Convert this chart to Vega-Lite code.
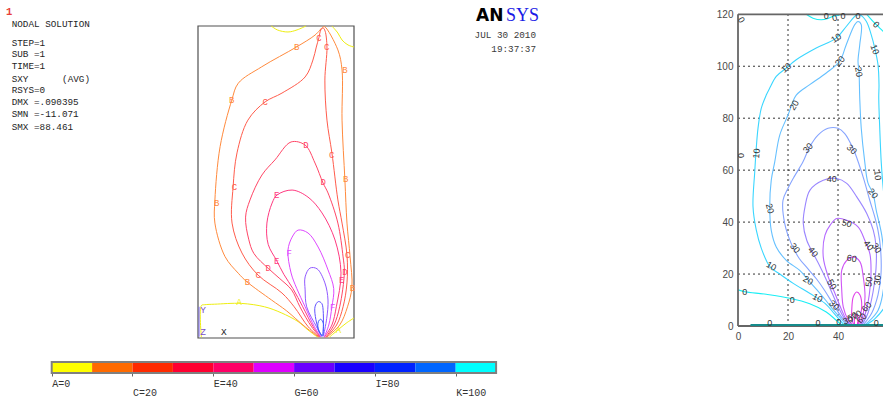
{
"$schema":"https://vega.github.io/schema/vega-lite/v6.json",
"padding":0,
"background":"#ffffff",
"config":{"view":{"stroke":null}},
"spacing":11,
"resolve":{"scale":{"color":"independent"}},
"datasets":{
"info":[
{"t":"1","col":-1,"row":-1,"k":"head"},
{"t":"NODAL SOLUTION","col":0,"row":0,"k":"body"},
{"t":"STEP=1","col":0,"row":1.55,"k":"body"},
{"t":"SUB =1","col":0,"row":2.5,"k":"body"},
{"t":"TIME=1","col":0,"row":3.5,"k":"body"},
{"t":"SXY","col":0,"row":4.55,"k":"body"},
{"t":"(AVG)","col":9,"row":4.55,"k":"body"},
{"t":"RSYS=0","col":0,"row":5.5,"k":"body"},
{"t":"DMX =.090395","col":0,"row":6.5,"k":"body"},
{"t":"SMN =-11.071","col":0,"row":7.5,"k":"body"},
{"t":"SMX =88.461","col":0,"row":8.55,"k":"body"}
],
"logo":[
{"t":"AN","col":20.36,"row":1.75,"k":"an"},
{"t":"SYS","col":25.7,"row":1.75,"k":"sys"},
{"t":"JUL 30 2010","col":31.07,"row":2.92,"k":"date"},
{"t":"19:37:37","col":31.07,"row":4.11,"k":"date"}
],
"bar":[
{"lo":0,"hi":10},{"lo":10,"hi":20},{"lo":20,"hi":30},{"lo":30,"hi":40},{"lo":40,"hi":50},{"lo":50,"hi":60},{"lo":60,"hi":70},{"lo":70,"hi":80},{"lo":80,"hi":90},{"lo":90,"hi":100},{"lo":100,"hi":110}
],
"ans":[
{"c":"A1","l":0,"i":0,"x":28.2,"y":120},{"c":"A1","l":0,"i":1,"x":30.5,"y":118.5},{"c":"A1","l":0,"i":2,"x":34.6,"y":117.7},{"c":"A1","l":0,"i":3,"x":38.1,"y":118.5},{"c":"A1","l":0,"i":4,"x":41.5,"y":120},
{"c":"A2","l":0,"i":0,"x":51.5,"y":120},{"c":"A2","l":0,"i":1,"x":53.8,"y":117.3},{"c":"A2","l":0,"i":2,"x":55.4,"y":114.6},{"c":"A2","l":0,"i":3,"x":57.7,"y":112.7},{"c":"A2","l":0,"i":4,"x":60,"y":111.9},
{"c":"A3","l":0,"i":0,"x":1.3,"y":0.3},{"c":"A3","l":0,"i":1,"x":1.3,"y":12.5},{"c":"A3","l":0,"i":2,"x":2.6,"y":12.8},{"c":"A3","l":0,"i":3,"x":6.4,"y":13},{"c":"A3","l":0,"i":4,"x":16.7,"y":13.3},{"c":"A3","l":0,"i":5,"x":25.6,"y":12},{"c":"A3","l":0,"i":6,"x":32,"y":9.7},{"c":"A3","l":0,"i":7,"x":38.5,"y":6.3},{"c":"A3","l":0,"i":8,"x":42.3,"y":3.1},{"c":"A3","l":0,"i":9,"x":46,"y":0.3},
{"c":"A4","l":0,"i":0,"x":50.5,"y":0.3},{"c":"A4","l":0,"i":1,"x":53.8,"y":3.1},{"c":"A4","l":0,"i":2,"x":57,"y":5.7},{"c":"A4","l":0,"i":3,"x":60,"y":7.7},
{"c":"B","l":10,"i":0,"x":46.3,"y":0.4},{"c":"B","l":10,"i":1,"x":41.2,"y":4.3},{"c":"B","l":10,"i":2,"x":34,"y":10.5},{"c":"B","l":10,"i":3,"x":28.3,"y":14.6},{"c":"B","l":10,"i":4,"x":18.7,"y":21.7},{"c":"B","l":10,"i":5,"x":15.5,"y":24.9},{"c":"B","l":10,"i":6,"x":10.4,"y":31.3},{"c":"B","l":10,"i":7,"x":6.5,"y":44.2},{"c":"B","l":10,"i":8,"x":6.5,"y":53},{"c":"B","l":10,"i":9,"x":8.5,"y":73.6},{"c":"B","l":10,"i":10,"x":13,"y":91.5},{"c":"B","l":10,"i":11,"x":15.5,"y":98},{"c":"B","l":10,"i":12,"x":24.5,"y":104.3},{"c":"B","l":10,"i":13,"x":38,"y":112},{"c":"B","l":10,"i":14,"x":45,"y":116.5},{"c":"B","l":10,"i":15,"x":48.2,"y":119.7},{"c":"B","l":10,"i":16,"x":48.8,"y":119.7},{"c":"B","l":10,"i":17,"x":53.8,"y":110.8},{"c":"B","l":10,"i":18,"x":55.4,"y":103.1},{"c":"B","l":10,"i":19,"x":55.4,"y":83.8},{"c":"B","l":10,"i":20,"x":56.5,"y":60.8},{"c":"B","l":10,"i":21,"x":57.3,"y":44.2},{"c":"B","l":10,"i":22,"x":58.5,"y":31.2},{"c":"B","l":10,"i":23,"x":59.2,"y":19.6},{"c":"B","l":10,"i":24,"x":57.5,"y":12},{"c":"B","l":10,"i":25,"x":54.5,"y":5},{"c":"B","l":10,"i":26,"x":49.5,"y":0.3},
{"c":"C","l":20,"i":0,"x":46.6,"y":0.4},{"c":"C","l":20,"i":1,"x":42.4,"y":4.3},{"c":"C","l":20,"i":2,"x":37,"y":12},{"c":"C","l":20,"i":3,"x":32.3,"y":17.3},{"c":"C","l":20,"i":4,"x":23.1,"y":24.2},{"c":"C","l":20,"i":5,"x":16.9,"y":32.7},{"c":"C","l":20,"i":6,"x":13.1,"y":44.2},{"c":"C","l":20,"i":7,"x":13.5,"y":58.1},{"c":"C","l":20,"i":8,"x":15,"y":71.2},{"c":"C","l":20,"i":9,"x":19.2,"y":83.8},{"c":"C","l":20,"i":10,"x":25.8,"y":90.8},{"c":"C","l":20,"i":11,"x":32.3,"y":94.2},{"c":"C","l":20,"i":12,"x":41.2,"y":100.4},{"c":"C","l":20,"i":13,"x":44.2,"y":106.9},{"c":"C","l":20,"i":14,"x":45.5,"y":111.9},{"c":"C","l":20,"i":15,"x":46.5,"y":115.5},{"c":"C","l":20,"i":16,"x":47.3,"y":118.6},{"c":"C","l":20,"i":17,"x":48.2,"y":119.2},{"c":"C","l":20,"i":18,"x":48.9,"y":118},{"c":"C","l":20,"i":19,"x":49.6,"y":111.9},{"c":"C","l":20,"i":20,"x":48.8,"y":99.2},{"c":"C","l":20,"i":21,"x":49.6,"y":83.8},{"c":"C","l":20,"i":22,"x":51.5,"y":71.2},{"c":"C","l":20,"i":23,"x":53.8,"y":53.1},{"c":"C","l":20,"i":24,"x":55.4,"y":44.2},{"c":"C","l":20,"i":25,"x":57.3,"y":31.9},{"c":"C","l":20,"i":26,"x":57.3,"y":21.2},{"c":"C","l":20,"i":27,"x":55.8,"y":12},{"c":"C","l":20,"i":28,"x":53.3,"y":5},{"c":"C","l":20,"i":29,"x":49.3,"y":0.3},
{"c":"D","l":30,"i":0,"x":46.9,"y":0.4},{"c":"D","l":30,"i":1,"x":43.7,"y":4.3},{"c":"D","l":30,"i":2,"x":39.2,"y":12},{"c":"D","l":30,"i":3,"x":36,"y":18.5},{"c":"D","l":30,"i":4,"x":31.5,"y":22.8},{"c":"D","l":30,"i":5,"x":27,"y":26.8},{"c":"D","l":30,"i":6,"x":21.5,"y":32.5},{"c":"D","l":30,"i":7,"x":19.5,"y":38},{"c":"D","l":30,"i":8,"x":18.3,"y":46.5},{"c":"D","l":30,"i":9,"x":20,"y":53.1},{"c":"D","l":30,"i":10,"x":24.6,"y":62.7},{"c":"D","l":30,"i":11,"x":29.6,"y":68.5},{"c":"D","l":30,"i":12,"x":35.8,"y":75.4},{"c":"D","l":30,"i":13,"x":41.2,"y":74.2},{"c":"D","l":30,"i":14,"x":45,"y":67.3},{"c":"D","l":30,"i":15,"x":48.1,"y":59.6},{"c":"D","l":30,"i":16,"x":50,"y":55.8},{"c":"D","l":30,"i":17,"x":53.8,"y":44.2},{"c":"D","l":30,"i":18,"x":55.8,"y":31.2},{"c":"D","l":30,"i":19,"x":56.3,"y":25.4},{"c":"D","l":30,"i":20,"x":54.5,"y":12},{"c":"D","l":30,"i":21,"x":52.3,"y":5},{"c":"D","l":30,"i":22,"x":49.1,"y":0.3},
{"c":"E","l":40,"i":0,"x":47.1,"y":0.4},{"c":"E","l":40,"i":1,"x":44.3,"y":4.3},{"c":"E","l":40,"i":2,"x":40.3,"y":12},{"c":"E","l":40,"i":3,"x":36.5,"y":19},{"c":"E","l":40,"i":4,"x":33,"y":24.5},{"c":"E","l":40,"i":5,"x":30.3,"y":29.7},{"c":"E","l":40,"i":6,"x":27,"y":36},{"c":"E","l":40,"i":7,"x":26.5,"y":44.2},{"c":"E","l":40,"i":8,"x":28.5,"y":51.9},{"c":"E","l":40,"i":9,"x":30.4,"y":55},{"c":"E","l":40,"i":10,"x":36.2,"y":56.9},{"c":"E","l":40,"i":11,"x":42.3,"y":54.2},{"c":"E","l":40,"i":12,"x":47.7,"y":48.1},{"c":"E","l":40,"i":13,"x":52.7,"y":37.7},{"c":"E","l":40,"i":14,"x":55,"y":25},{"c":"E","l":40,"i":15,"x":53.2,"y":12},{"c":"E","l":40,"i":16,"x":51.5,"y":5},{"c":"E","l":40,"i":17,"x":48.6,"y":0.3},
{"c":"F","l":50,"i":0,"x":47.3,"y":0.4},{"c":"F","l":50,"i":1,"x":44.8,"y":4.3},{"c":"F","l":50,"i":2,"x":41.2,"y":12},{"c":"F","l":50,"i":3,"x":38,"y":19},{"c":"F","l":50,"i":4,"x":35.8,"y":25},{"c":"F","l":50,"i":5,"x":34.6,"y":33.8},{"c":"F","l":50,"i":6,"x":36.2,"y":38.8},{"c":"F","l":50,"i":7,"x":38.5,"y":41.5},{"c":"F","l":50,"i":8,"x":42.3,"y":40.4},{"c":"F","l":50,"i":9,"x":46.2,"y":35},{"c":"F","l":50,"i":10,"x":50,"y":26.2},{"c":"F","l":50,"i":11,"x":52.2,"y":19},{"c":"F","l":50,"i":12,"x":51.5,"y":12},{"c":"F","l":50,"i":13,"x":50.3,"y":5},{"c":"F","l":50,"i":14,"x":48.5,"y":0.3},
{"c":"G","l":60,"i":0,"x":47.5,"y":0.6},{"c":"G","l":60,"i":1,"x":45.6,"y":4.3},{"c":"G","l":60,"i":2,"x":41.8,"y":12},{"c":"G","l":60,"i":3,"x":41.2,"y":18.5},{"c":"G","l":60,"i":4,"x":41.2,"y":23.5},{"c":"G","l":60,"i":5,"x":43.1,"y":26.9},{"c":"G","l":60,"i":6,"x":45.8,"y":26.6},{"c":"G","l":60,"i":7,"x":48.8,"y":21.2},{"c":"G","l":60,"i":8,"x":50,"y":14.6},{"c":"G","l":60,"i":9,"x":49.5,"y":7.5},{"c":"G","l":60,"i":10,"x":48.3,"y":1},
{"c":"H","l":70,"i":0,"x":47.7,"y":0.6},{"c":"H","l":70,"i":1,"x":46,"y":4.3},{"c":"H","l":70,"i":2,"x":45,"y":12},{"c":"H","l":70,"i":3,"x":46.3,"y":14},{"c":"H","l":70,"i":4,"x":47.6,"y":13.3},{"c":"H","l":70,"i":5,"x":48.2,"y":9.5},{"c":"H","l":70,"i":6,"x":48.2,"y":4.3},{"c":"H","l":70,"i":7,"x":48.1,"y":0.6},
{"c":"I","l":80,"i":0,"x":47.8,"y":0.8},{"c":"I","l":80,"i":1,"x":46.3,"y":3},{"c":"I","l":80,"i":2,"x":46.3,"y":6.3},{"c":"I","l":80,"i":3,"x":47.2,"y":7.2},{"c":"I","l":80,"i":4,"x":48.2,"y":5.7},{"c":"I","l":80,"i":5,"x":48.2,"y":3.1},{"c":"I","l":80,"i":6,"x":48,"y":0.8}
],
"anslab":[
{"t":"B","l":10,"x":38,"y":112},{"t":"C","l":20,"x":46.5,"y":115.3},{"t":"C","l":20,"x":49.5,"y":112},{"t":"B","l":10,"x":56.5,"y":103.1},{"t":"B","l":10,"x":13,"y":91.5},{"t":"C","l":20,"x":25.8,"y":90.9},{"t":"D","l":30,"x":41.5,"y":74.2},{"t":"C","l":20,"x":51.4,"y":70.4},{"t":"D","l":30,"x":48.2,"y":59.9},{"t":"B","l":10,"x":56.8,"y":61},{"t":"C","l":20,"x":14,"y":58.2},{"t":"E","l":40,"x":30.3,"y":55},{"t":"B","l":10,"x":7.2,"y":51.8},{"t":"F","l":50,"x":35.1,"y":32.8},{"t":"E","l":40,"x":30.3,"y":29.7},{"t":"D","l":30,"x":27,"y":26.8},{"t":"C","l":20,"x":23.2,"y":24.2},{"t":"B","l":10,"x":19,"y":21.7},{"t":"A","l":0,"x":15.8,"y":14},{"t":"C","l":20,"x":57.6,"y":31.9},{"t":"D","l":30,"x":56.5,"y":25.5},{"t":"E","l":40,"x":55.3,"y":22.3},{"t":"B","l":10,"x":59.4,"y":19.3},{"t":"F","l":50,"x":51.8,"y":12},{"t":"A","l":0,"x":54,"y":3.1}
],
"triad":[{"i":0,"x":0.4,"y":0.5},{"i":1,"x":0.4,"y":12}],
"axlab":[{"t":"Y","x":0.9,"y":10.6,"k":"p"},{"t":"Z","x":0.9,"y":2.4,"k":"p"},{"t":"X","x":8.8,"y":2.4,"k":"b"}],
"mat":[
{"c":"M0a","l":0,"i":0,"x":27.3,"y":120},{"c":"M0a","l":0,"i":1,"x":30,"y":118.5},{"c":"M0a","l":0,"i":2,"x":33.3,"y":117.9},{"c":"M0a","l":0,"i":3,"x":36,"y":118.4},{"c":"M0a","l":0,"i":4,"x":38,"y":119.2},{"c":"M0a","l":0,"i":5,"x":40,"y":119.6},{"c":"M0a","l":0,"i":6,"x":42.5,"y":120},
{"c":"M0b","l":0,"i":0,"x":51.5,"y":120},{"c":"M0b","l":0,"i":1,"x":54,"y":117.3},{"c":"M0b","l":0,"i":2,"x":56.7,"y":114.7},{"c":"M0b","l":0,"i":3,"x":58.5,"y":113},
{"c":"M0c","l":0,"i":0,"x":0,"y":13.9},{"c":"M0c","l":0,"i":1,"x":2.7,"y":13.2},{"c":"M0c","l":0,"i":2,"x":11.3,"y":12.2},{"c":"M0c","l":0,"i":3,"x":20.7,"y":10.7},{"c":"M0c","l":0,"i":4,"x":28.7,"y":8.6},{"c":"M0c","l":0,"i":5,"x":35.3,"y":5.4},{"c":"M0c","l":0,"i":6,"x":39.3,"y":2.2},{"c":"M0c","l":0,"i":7,"x":41.5,"y":0.3},
{"c":"M10","l":10,"i":0,"x":42.5,"y":0.3},{"c":"M10","l":10,"i":1,"x":41,"y":2},{"c":"M10","l":10,"i":2,"x":38.5,"y":4.8},{"c":"M10","l":10,"i":3,"x":34.8,"y":8.7},{"c":"M10","l":10,"i":4,"x":28.8,"y":12.5},{"c":"M10","l":10,"i":5,"x":22.1,"y":16.4},{"c":"M10","l":10,"i":6,"x":17,"y":19.8},{"c":"M10","l":10,"i":7,"x":12.8,"y":22.8},{"c":"M10","l":10,"i":8,"x":9.3,"y":30},{"c":"M10","l":10,"i":9,"x":7.3,"y":37},{"c":"M10","l":10,"i":10,"x":6,"y":46},{"c":"M10","l":10,"i":11,"x":6.7,"y":59.4},{"c":"M10","l":10,"i":12,"x":7.3,"y":68.4},{"c":"M10","l":10,"i":13,"x":8,"y":76.1},{"c":"M10","l":10,"i":14,"x":9.3,"y":83.8},{"c":"M10","l":10,"i":15,"x":11.3,"y":88.9},{"c":"M10","l":10,"i":16,"x":12.7,"y":91.6},{"c":"M10","l":10,"i":17,"x":15.3,"y":96.1},{"c":"M10","l":10,"i":18,"x":19.3,"y":99.3},{"c":"M10","l":10,"i":19,"x":23.3,"y":102.5},{"c":"M10","l":10,"i":20,"x":31.3,"y":107},{"c":"M10","l":10,"i":21,"x":39.3,"y":110.8},{"c":"M10","l":10,"i":22,"x":43.3,"y":115.3},{"c":"M10","l":10,"i":23,"x":47.3,"y":119.6},{"c":"M10","l":10,"i":24,"x":48.7,"y":119.8},{"c":"M10","l":10,"i":25,"x":51.3,"y":117.3},{"c":"M10","l":10,"i":26,"x":53.3,"y":112.1},{"c":"M10","l":10,"i":27,"x":54.7,"y":107},{"c":"M10","l":10,"i":28,"x":56,"y":100.6},{"c":"M10","l":10,"i":29,"x":56.4,"y":92.9},{"c":"M10","l":10,"i":30,"x":56.3,"y":88},{"c":"M10","l":10,"i":31,"x":56.7,"y":76},{"c":"M10","l":10,"i":32,"x":57.3,"y":63},{"c":"M10","l":10,"i":33,"x":58,"y":54},{"c":"M10","l":10,"i":34,"x":59.5,"y":40},{"c":"M10","l":10,"i":35,"x":60.5,"y":25},{"c":"M10","l":10,"i":36,"x":60,"y":10},{"c":"M10","l":10,"i":37,"x":55,"y":3},{"c":"M10","l":10,"i":38,"x":51,"y":0.3},
{"c":"M20","l":20,"i":0,"x":43.3,"y":0.3},{"c":"M20","l":20,"i":1,"x":41.5,"y":2.5},{"c":"M20","l":20,"i":2,"x":38.5,"y":5.8},{"c":"M20","l":20,"i":3,"x":35,"y":10},{"c":"M20","l":20,"i":4,"x":31.5,"y":14},{"c":"M20","l":20,"i":5,"x":28,"y":17.8},{"c":"M20","l":20,"i":6,"x":24.7,"y":21.4},{"c":"M20","l":20,"i":7,"x":19.3,"y":25.3},{"c":"M20","l":20,"i":8,"x":15.3,"y":30.4},{"c":"M20","l":20,"i":9,"x":13.3,"y":36.8},{"c":"M20","l":20,"i":10,"x":12.7,"y":45.8},{"c":"M20","l":20,"i":11,"x":13.3,"y":56.1},{"c":"M20","l":20,"i":12,"x":14.7,"y":63.2},{"c":"M20","l":20,"i":13,"x":16.7,"y":73.5},{"c":"M20","l":20,"i":14,"x":20,"y":81.2},{"c":"M20","l":20,"i":15,"x":23.3,"y":88.9},{"c":"M20","l":20,"i":16,"x":28.7,"y":92.9},{"c":"M20","l":20,"i":17,"x":35.3,"y":97.4},{"c":"M20","l":20,"i":18,"x":40.7,"y":101.9},{"c":"M20","l":20,"i":19,"x":43.3,"y":108.3},{"c":"M20","l":20,"i":20,"x":46.7,"y":116},{"c":"M20","l":20,"i":21,"x":48,"y":117.2},{"c":"M20","l":20,"i":22,"x":49.3,"y":116},{"c":"M20","l":20,"i":23,"x":48.7,"y":108.3},{"c":"M20","l":20,"i":24,"x":48,"y":101.9},{"c":"M20","l":20,"i":25,"x":48.4,"y":98},{"c":"M20","l":20,"i":26,"x":48.7,"y":87.7},{"c":"M20","l":20,"i":27,"x":49.3,"y":76.1},{"c":"M20","l":20,"i":28,"x":50.7,"y":63.2},{"c":"M20","l":20,"i":29,"x":52,"y":55},{"c":"M20","l":20,"i":30,"x":54,"y":51},{"c":"M20","l":20,"i":31,"x":55.3,"y":44.5},{"c":"M20","l":20,"i":32,"x":57.5,"y":35},{"c":"M20","l":20,"i":33,"x":58.5,"y":25},{"c":"M20","l":20,"i":34,"x":58.3,"y":15},{"c":"M20","l":20,"i":35,"x":56,"y":6},{"c":"M20","l":20,"i":36,"x":52,"y":1.5},{"c":"M20","l":20,"i":37,"x":50.5,"y":0.3},
{"c":"M30","l":30,"i":0,"x":44,"y":0.3},{"c":"M30","l":30,"i":1,"x":41,"y":4},{"c":"M30","l":30,"i":2,"x":38,"y":8.5},{"c":"M30","l":30,"i":3,"x":34.8,"y":13.5},{"c":"M30","l":30,"i":4,"x":31.5,"y":18},{"c":"M30","l":30,"i":5,"x":28,"y":22},{"c":"M30","l":30,"i":6,"x":24.5,"y":26},{"c":"M30","l":30,"i":7,"x":21.3,"y":31.7},{"c":"M30","l":30,"i":8,"x":18.7,"y":39.4},{"c":"M30","l":30,"i":9,"x":18,"y":48.4},{"c":"M30","l":30,"i":10,"x":20,"y":53},{"c":"M30","l":30,"i":11,"x":22.5,"y":57.5},{"c":"M30","l":30,"i":12,"x":26,"y":63.2},{"c":"M30","l":30,"i":13,"x":28.7,"y":69},{"c":"M30","l":30,"i":14,"x":32,"y":73.5},{"c":"M30","l":30,"i":15,"x":36,"y":76.1},{"c":"M30","l":30,"i":16,"x":40,"y":76.1},{"c":"M30","l":30,"i":17,"x":42.7,"y":74.1},{"c":"M30","l":30,"i":18,"x":46,"y":68.4},{"c":"M30","l":30,"i":19,"x":48.5,"y":62},{"c":"M30","l":30,"i":20,"x":50.5,"y":56},{"c":"M30","l":30,"i":21,"x":52.7,"y":48.4},{"c":"M30","l":30,"i":22,"x":54.7,"y":42},{"c":"M30","l":30,"i":23,"x":56,"y":36.8},{"c":"M30","l":30,"i":24,"x":57,"y":30},{"c":"M30","l":30,"i":25,"x":57.2,"y":20},{"c":"M30","l":30,"i":26,"x":56,"y":12},{"c":"M30","l":30,"i":27,"x":53.5,"y":5},{"c":"M30","l":30,"i":28,"x":50,"y":0.3},
{"c":"M40","l":40,"i":0,"x":44.8,"y":0.3},{"c":"M40","l":40,"i":1,"x":42.5,"y":3},{"c":"M40","l":40,"i":2,"x":40,"y":7.5},{"c":"M40","l":40,"i":3,"x":37.5,"y":13},{"c":"M40","l":40,"i":4,"x":35,"y":18.5},{"c":"M40","l":40,"i":5,"x":32.5,"y":23.5},{"c":"M40","l":40,"i":6,"x":30.1,"y":27.9},{"c":"M40","l":40,"i":7,"x":27.5,"y":33},{"c":"M40","l":40,"i":8,"x":26.1,"y":39.5},{"c":"M40","l":40,"i":9,"x":26.8,"y":45.9},{"c":"M40","l":40,"i":10,"x":28.8,"y":52.3},{"c":"M40","l":40,"i":11,"x":34.1,"y":56.1},{"c":"M40","l":40,"i":12,"x":39.5,"y":56.8},{"c":"M40","l":40,"i":13,"x":43.5,"y":54.9},{"c":"M40","l":40,"i":14,"x":47.5,"y":49.7},{"c":"M40","l":40,"i":15,"x":51.5,"y":43.3},{"c":"M40","l":40,"i":16,"x":54.1,"y":36.9},{"c":"M40","l":40,"i":17,"x":55.2,"y":31},{"c":"M40","l":40,"i":18,"x":55.2,"y":22},{"c":"M40","l":40,"i":19,"x":54,"y":13},{"c":"M40","l":40,"i":20,"x":52,"y":5},{"c":"M40","l":40,"i":21,"x":49.5,"y":0.3},
{"c":"M50","l":50,"i":0,"x":45.5,"y":0.3},{"c":"M50","l":50,"i":1,"x":43.5,"y":2.2},{"c":"M50","l":50,"i":2,"x":41.5,"y":6.1},{"c":"M50","l":50,"i":3,"x":38.8,"y":12.5},{"c":"M50","l":50,"i":4,"x":36.1,"y":18.9},{"c":"M50","l":50,"i":5,"x":34.1,"y":26.6},{"c":"M50","l":50,"i":6,"x":34.8,"y":35},{"c":"M50","l":50,"i":7,"x":37,"y":39},{"c":"M50","l":50,"i":8,"x":39.5,"y":41.4},{"c":"M50","l":50,"i":9,"x":43.5,"y":40.7},{"c":"M50","l":50,"i":10,"x":48.1,"y":38.1},{"c":"M50","l":50,"i":11,"x":50.8,"y":32.8},{"c":"M50","l":50,"i":12,"x":52.8,"y":27.6},{"c":"M50","l":50,"i":13,"x":53.2,"y":20},{"c":"M50","l":50,"i":14,"x":52.5,"y":12},{"c":"M50","l":50,"i":15,"x":51,"y":5},{"c":"M50","l":50,"i":16,"x":49,"y":0.3},
{"c":"M60","l":60,"i":0,"x":46,"y":0.3},{"c":"M60","l":60,"i":1,"x":44,"y":2.5},{"c":"M60","l":60,"i":2,"x":42.1,"y":7.4},{"c":"M60","l":60,"i":3,"x":41.5,"y":13.8},{"c":"M60","l":60,"i":4,"x":41.5,"y":21.5},{"c":"M60","l":60,"i":5,"x":43.5,"y":25.3},{"c":"M60","l":60,"i":6,"x":46.1,"y":26.6},{"c":"M60","l":60,"i":7,"x":48.8,"y":24.7},{"c":"M60","l":60,"i":8,"x":50.1,"y":18.9},{"c":"M60","l":60,"i":9,"x":50.8,"y":11.2},{"c":"M60","l":60,"i":10,"x":50.1,"y":4.8},{"c":"M60","l":60,"i":11,"x":48.5,"y":0.3},
{"c":"M70","l":70,"i":0,"x":46.3,"y":0.4},{"c":"M70","l":70,"i":1,"x":45.5,"y":2.9},{"c":"M70","l":70,"i":2,"x":45.5,"y":6.1},{"c":"M70","l":70,"i":3,"x":46.1,"y":11.2},{"c":"M70","l":70,"i":4,"x":47.5,"y":13.1},{"c":"M70","l":70,"i":5,"x":48.8,"y":11.9},{"c":"M70","l":70,"i":6,"x":49.5,"y":7.4},{"c":"M70","l":70,"i":7,"x":48.8,"y":3.5},{"c":"M70","l":70,"i":8,"x":48,"y":0.4},
{"c":"M80","l":80,"i":0,"x":46.6,"y":0.4},{"c":"M80","l":80,"i":1,"x":46.6,"y":3},{"c":"M80","l":80,"i":2,"x":47.3,"y":4.5},{"c":"M80","l":80,"i":3,"x":48,"y":3},{"c":"M80","l":80,"i":4,"x":47.7,"y":0.4}
],
"matlab":[
{"t":"0","x":1.3,"y":117.8,"a":60},{"t":"0","x":35.3,"y":119.4,"a":0},{"t":"0","x":38.7,"y":118.6,"a":-15},{"t":"0","x":42,"y":119.5,"a":0},{"t":"0","x":48,"y":119.4,"a":0},{"t":"0","x":55.3,"y":116,"a":45},
{"t":"10","x":39.3,"y":110.9,"a":-35},{"t":"10","x":19.3,"y":99.4,"a":-40},{"t":"20","x":40.8,"y":102,"a":-50},{"t":"20","x":48.3,"y":97.8,"a":80},{"t":"10","x":54.7,"y":106.5,"a":70},{"t":"20","x":22.5,"y":85,"a":-60},{"t":"30","x":28,"y":68.5,"a":-50},{"t":"30","x":45.5,"y":68,"a":45},{"t":"10","x":7.4,"y":66.4,"a":-85},{"t":"0","x":1,"y":65.6,"a":-90},{"t":"40","x":37.5,"y":56.5,"a":0},{"t":"10","x":55.9,"y":58,"a":85},{"t":"20","x":12.8,"y":45.2,"a":75},{"t":"20","x":54,"y":51,"a":50},{"t":"50","x":43.5,"y":39.5,"a":15},{"t":"30","x":22.8,"y":30,"a":50},{"t":"40","x":30,"y":28.5,"a":50},{"t":"40","x":52.2,"y":31,"a":50},{"t":"30","x":55.4,"y":30,"a":60},{"t":"60","x":45.5,"y":26,"a":10},{"t":"10","x":13.3,"y":23,"a":30},{"t":"20","x":28,"y":17.6,"a":30},{"t":"50","x":37.5,"y":16,"a":60},{"t":"50","x":52.4,"y":17,"a":-85},{"t":"30","x":55.8,"y":17.6,"a":-85},{"t":"0","x":2.7,"y":12.9,"a":0},{"t":"0","x":21.7,"y":9.9,"a":0},{"t":"10","x":31.8,"y":10.8,"a":25},{"t":"30","x":38.5,"y":8,"a":45},{"t":"60","x":51.5,"y":7.4,"a":-50},{"t":"0","x":12.7,"y":1.3,"a":0},{"t":"0","x":32,"y":1.3,"a":0},{"t":"0","x":40.3,"y":1.5,"a":0},{"t":"0","x":55.3,"y":1.3,"a":0},{"t":"30","x":44,"y":2.2,"a":-20},{"t":"50","x":45.8,"y":3.6,"a":-30},{"t":"70","x":47.6,"y":4.2,"a":-40},{"t":"60","x":49.5,"y":3,"a":-50}
],
"grid":[
{"x":20,"y":0,"x2":20,"y2":120},{"x":40,"y":0,"x2":40,"y2":120},{"x":0,"y":20,"x2":58,"y2":20},{"x":0,"y":40,"x2":58,"y2":40},{"x":0,"y":60,"x2":58,"y2":60},{"x":0,"y":80,"x2":58,"y2":80},{"x":0,"y":100,"x2":58,"y2":100}
],
"frame":[
{"k":"g","x":0,"y":0,"x2":0,"y2":120},{"k":"g","x":0,"y":120,"x2":58,"y2":120},{"k":"g","x":0,"y":0,"x2":58,"y2":0},{"k":"t","x":5,"y":0.3,"x2":58,"y2":0.3}
]
},
"vconcat":[
 {"bounds":"flush","spacing":8,"resolve":{"scale":{"color":"independent"}},"hconcat":[
  {"width":190,"height":350,"data":{"name":"info"},
   "encoding":{"x":{"field":"col","type":"quantitative","scale":{"domain":[-2.089,31.839],"nice":false,"zero":false},"axis":null},
     "y":{"field":"row","type":"quantitative","scale":{"domain":[-2,27.1667],"reverse":true,"nice":false,"zero":false},"axis":null},
     "text":{"field":"t","type":"nominal"}},
   "layer":[
    {"transform":[{"filter":"datum.k == 'body'"}],"mark":{"type":"text","align":"left","baseline":"middle","font":"Liberation Mono","fontSize":9.3,"color":"#1e1e1e"}},
    {"transform":[{"filter":"datum.k == 'head'"}],"mark":{"type":"text","align":"left","baseline":"middle","font":"Liberation Mono","fontSize":10.5,"fontWeight":"bold","color":"#e8403a"}}
   ]},
  {"width":156,"height":338,
   "encoding":{"x":{"field":"x","type":"quantitative","scale":{"domain":[0,60],"nice":false,"zero":false},"axis":null},
     "y":{"field":"y","type":"quantitative","scale":{"domain":[0,130],"nice":false,"zero":false},"axis":null}},
   "layer":[
    {"data":{"values":[{"x":0,"y":0,"x2":60,"y2":120}]},"mark":{"type":"rect","filled":false,"stroke":"#505050","strokeWidth":1.2},"encoding":{"x2":{"field":"x2"},"y2":{"field":"y2"}}},
    {"data":{"name":"ans"},"mark":{"type":"line","strokeWidth":1,"interpolate":"catmull-rom"},
     "encoding":{"detail":{"field":"c","type":"nominal"},"order":{"field":"i","type":"quantitative"},
       "color":{"field":"l","type":"ordinal","scale":{"domain":[0,10,20,30,40,50,60,70,80],"range":["#eeee10","#ff8a3d","#ff5c4c","#ff4666","#ff3a80","#de48ff","#9058ff","#6050ff","#3a5cff"]},"legend":null}}},
    {"data":{"name":"triad"},"mark":{"type":"line","color":"#7b68ee","strokeWidth":1},"encoding":{"order":{"field":"i","type":"quantitative"}}},
    {"data":{"name":"anslab"},"mark":{"type":"text","font":"Liberation Mono","fontSize":9,"baseline":"middle","align":"center"},
     "encoding":{"text":{"field":"t","type":"nominal"},"color":{"field":"l","type":"ordinal","legend":null}}},
    {"data":{"name":"axlab"},"transform":[{"filter":"datum.k == 'p'"}],"mark":{"type":"text","font":"Liberation Mono","fontSize":9.5,"baseline":"middle","align":"left","color":"#7a4fc8"},"encoding":{"text":{"field":"t","type":"nominal"}}},
    {"data":{"name":"axlab"},"transform":[{"filter":"datum.k == 'b'"}],"mark":{"type":"text","font":"Liberation Mono","fontSize":9.5,"baseline":"middle","align":"left","color":"#222222"},"encoding":{"text":{"field":"t","type":"nominal"}}}
   ]},
  {"width":368,"height":338,"data":{"name":"logo"},
   "encoding":{"x":{"field":"col","type":"quantitative","scale":{"domain":[0,65.714],"nice":false,"zero":false},"axis":null},
     "y":{"field":"row","type":"quantitative","scale":{"domain":[0,28.1667],"reverse":true,"nice":false,"zero":false},"axis":null},
     "text":{"field":"t","type":"nominal"}},
   "layer":[
    {"transform":[{"filter":"datum.k == 'an'"}],"mark":{"type":"text","align":"left","baseline":"alphabetic","font":"DejaVu Sans","fontWeight":"bold","fontSize":17,"color":"#000000"}},
    {"transform":[{"filter":"datum.k == 'sys'"}],"mark":{"type":"text","align":"left","baseline":"alphabetic","font":"Liberation Serif","fontSize":18,"color":"#1a1ae6"}},
    {"transform":[{"filter":"datum.k == 'date'"}],"mark":{"type":"text","align":"right","baseline":"middle","font":"Liberation Mono","fontSize":9.3,"color":"#3a3a3a"}}
   ]},
  {"width":145,"height":326,
   "encoding":{"x":{"field":"x","type":"quantitative","scale":{"domain":[0,58],"nice":false,"zero":false},
     "axis":{"values":[0,20,40],"domain":false,"ticks":false,"grid":false,"labelFont":"Liberation Sans","labelFontSize":10,"labelColor":"#4a4a4a","labelPadding":5,"title":null,"labelFlush":false}},
    "y":{"field":"y","type":"quantitative","scale":{"domain":[0,125.5],"nice":false,"zero":false},
     "axis":{"values":[0,20,40,60,80,100,120],"domain":false,"ticks":false,"grid":false,"labelFont":"Liberation Sans","labelFontSize":10,"labelColor":"#4a4a4a","labelPadding":5,"title":null,"labelFlush":false}}},
   "layer":[
    {"data":{"name":"grid"},"mark":{"type":"rule","color":"#333333","strokeWidth":1,"strokeDash":[2,3],"clip":true},"encoding":{"x2":{"field":"x2"},"y2":{"field":"y2"}}},
    {"data":{"name":"mat"},"mark":{"type":"line","strokeWidth":1.1,"interpolate":"catmull-rom","clip":true},
     "encoding":{"detail":{"field":"c","type":"nominal"},"order":{"field":"i","type":"quantitative"},
      "color":{"field":"l","type":"ordinal","scale":{"domain":[0,10,20,30,40,50,60,70,80],"range":["#19eef5","#3ad6ff","#66c0ff","#86a4ff","#9a86ff","#b46aff","#cf55f5","#e040e8","#ee30e0"]},"legend":null}}},
    {"data":{"name":"frame"},"transform":[{"filter":"datum.k == 'g'"}],"mark":{"type":"rule","color":"#666666","strokeWidth":1.8},"encoding":{"x2":{"field":"x2"},"y2":{"field":"y2"}}},
    {"data":{"name":"frame"},"transform":[{"filter":"datum.k == 't'"}],"mark":{"type":"rule","color":"#168c8c","strokeWidth":2.2,"clip":true},"encoding":{"x2":{"field":"x2"},"y2":{"field":"y2"}}},
    {"data":{"name":"matlab"},"mark":{"type":"text","font":"Liberation Sans","fontSize":9,"color":"#333333","baseline":"middle","align":"center","clip":true},
     "encoding":{"text":{"field":"t","type":"nominal"},"angle":{"field":"a","type":"quantitative","scale":null}}}
   ]}
 ]},
 {"width":560,"height":11,
  "layer":[
   {"data":{"name":"bar"},"mark":{"type":"rect"},
    "encoding":{"x":{"field":"lo","type":"quantitative","scale":{"domain":[-12.797,125.817],"nice":false,"zero":false},
       "axis":{"values":[0,20,40,60,80,100],"labelExpr":"['A','B','C','D','E','F','G','H','I','J','K'][datum.value/10] + '=' + datum.value","domain":false,"ticks":true,"tickSize":3,"tickColor":"#666666","grid":false,"title":null,"labelAlign":"left","labelBaseline":"top","labelFont":"Liberation Mono","labelFontSize":10,"labelColor":"#333333","labelFlush":false,"labelOverlap":false,"labelBound":false,"labelPadding":{"condition":{"test":"datum.value % 40 == 0","value":2},"value":11}}},
     "x2":{"field":"hi"},
     "color":{"field":"lo","type":"ordinal","scale":{"domain":[0,10,20,30,40,50,60,70,80,90,100],"range":["#ffff00","#ff6a00","#ff2a00","#ff0030","#ff0066","#dd00ff","#6a00ff","#1a00ff","#0022ff","#0066ff","#00ffff"]},"legend":null}}},
   {"data":{"values":[{"lo":0,"hi":110}]},"mark":{"type":"rect","filled":false,"stroke":"#808080","strokeWidth":2},"encoding":{"x":{"field":"lo","type":"quantitative"},"x2":{"field":"hi"}}}
  ]}
]
}
